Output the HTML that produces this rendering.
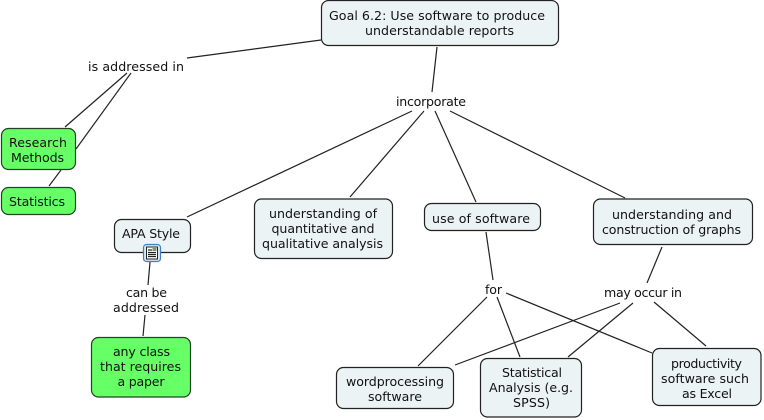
<!DOCTYPE html>
<html><head><meta charset="utf-8"><style>
html,body{margin:0;padding:0;background:#fff}
svg{display:block}
text{font-family:"DejaVu Sans","Liberation Sans",sans-serif;font-size:12.6px;fill:#111;text-anchor:middle}
.n{fill:#ecf3f5;stroke:#222;stroke-width:1.2}
.g{fill:#66ff66;stroke:#224422;stroke-width:1.2}
line{stroke:#222;stroke-width:1.2}
</style></head><body>
<svg width="764" height="420" viewBox="0 0 764 420" xmlns="http://www.w3.org/2000/svg">
<line x1="187" y1="58" x2="321" y2="40"/>
<line x1="437" y1="47" x2="432" y2="92"/>
<line x1="127" y1="73" x2="65" y2="127"/>
<line x1="131" y1="73" x2="76" y2="149"/>
<line x1="61" y1="170" x2="49" y2="186"/>
<line x1="412" y1="111" x2="187" y2="217"/>
<line x1="424" y1="111" x2="350" y2="197"/>
<line x1="435" y1="111" x2="476" y2="202"/>
<line x1="450" y1="111" x2="625" y2="198"/>
<line x1="150" y1="262" x2="148" y2="285"/>
<line x1="145" y1="315" x2="143" y2="336"/>
<line x1="486" y1="232" x2="493" y2="280"/>
<line x1="662" y1="247" x2="647" y2="283"/>
<line x1="487" y1="297" x2="418" y2="366"/>
<line x1="497" y1="297" x2="520" y2="357"/>
<line x1="506" y1="293" x2="652" y2="353"/>
<line x1="620" y1="303" x2="455" y2="365"/>
<line x1="633" y1="303" x2="568" y2="357"/>
<line x1="654" y1="302" x2="706" y2="346"/>

<rect class="n" x="321.5" y="0.5" width="237" height="45" rx="7"/>
<rect class="g" x="1.5" y="128.5" width="74" height="41" rx="7"/>
<rect class="g" x="1.5" y="187.5" width="74" height="27" rx="7"/>
<rect class="n" x="114.5" y="219.5" width="76" height="33" rx="7"/>
<rect class="n" x="254.5" y="199" width="138" height="59.5" rx="7"/>
<rect class="n" x="424.5" y="203.5" width="116" height="27" rx="7"/>
<rect class="n" x="593.5" y="199" width="159" height="45.5" rx="7"/>
<rect class="g" x="91.5" y="337.5" width="99" height="59.5" rx="7"/>
<rect class="n" x="336.5" y="367.5" width="117" height="41" rx="7"/>
<rect class="n" x="480.5" y="358.5" width="101" height="58.5" rx="7"/>
<rect class="n" x="652.5" y="348.5" width="108.5" height="57" rx="7"/>

<rect x="143.5" y="244.5" width="17" height="17" rx="3" fill="#dbe8f5" stroke="#3f7fc4" stroke-width="1.2"/>
<rect x="146.5" y="247" width="11" height="12" fill="#fff" stroke="#222" stroke-width="1"/>
<g stroke="#222" stroke-width="1"><line x1="148" y1="250" x2="152" y2="250"/><line x1="148" y1="252.5" x2="156" y2="252.5"/><line x1="148" y1="254.5" x2="156" y2="254.5"/><line x1="148" y1="256.5" x2="156" y2="256.5"/></g>
<rect x="152.5" y="248" width="4" height="3" fill="#7a9a6a"/>

<text x="437" y="20" textLength="216">Goal 6.2: Use software to produce</text>
<text x="439.5" y="35" textLength="149">understandable reports</text>
<text x="136" y="71" textLength="96">is addressed in</text>
<text x="431" y="106" textLength="70">incorporate</text>
<text x="38" y="147" textLength="58">Research</text>
<text x="37.5" y="162" textLength="53">Methods</text>
<text x="37" y="206" textLength="56">Statistics</text>
<text x="151" y="238" textLength="58">APA Style</text>
<text x="146.5" y="297" textLength="41">can be</text>
<text x="146" y="312" textLength="66">addressed</text>
<text x="141.5" y="356" textLength="57">any class</text>
<text x="140.5" y="371" textLength="81">that requires</text>
<text x="141" y="386" textLength="47">a paper</text>
<text x="323" y="218" textLength="108">understanding of</text>
<text x="323" y="233" textLength="103">quantitative and</text>
<text x="322.5" y="248" textLength="121">qualitative analysis</text>
<text x="481" y="223" textLength="98">use of software</text>
<text x="672" y="219" textLength="120">understanding and</text>
<text x="671.5" y="234" textLength="139">construction of graphs</text>
<text x="493.5" y="294" textLength="17">for</text>
<text x="643" y="297" textLength="78">may occur in</text>
<text x="395" y="386" textLength="98">wordprocessing</text>
<text x="395" y="401" textLength="54">software</text>
<text x="532" y="377" textLength="60">Statistical</text>
<text x="531" y="392" textLength="84">Analysis (e.g.</text>
<text x="531.5" y="407" textLength="37">SPSS)</text>
<text x="706.5" y="368" textLength="71">productivity</text>
<text x="705" y="383" textLength="88">software such</text>
<text x="707" y="398" textLength="50">as Excel</text>
</svg>
</body></html>
